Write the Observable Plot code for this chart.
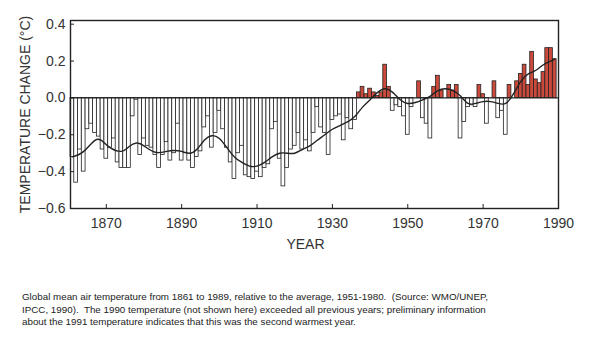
<!DOCTYPE html>
<html>
<head>
<meta charset="utf-8">
<script src="https://cdn.jsdelivr.net/npm/d3@7"></script>
<script src="https://cdn.jsdelivr.net/npm/@observablehq/plot@0.6"></script>
<style>
  html, body { margin: 0; padding: 0; background: #fff; }
  body { width: 600px; height: 343px; position: relative; overflow: hidden; font-family: "Liberation Sans", Arial, sans-serif; }
  #chart { position: absolute; left: 0; top: 0; }
  #caption { position: absolute; left: 22px; top: 291px; font-size: 9.8px; line-height: 12.5px; color: #222; white-space: nowrap; }
</style>
</head>
<body>
<div id="chart"></div>
<div id="caption">Global mean air temperature from 1861 to 1989, relative to the average, 1951-1980.&nbsp; (Source: WMO/UNEP,<br>IPCC, 1990).&nbsp; The 1990 temperature (not shown here) exceeded all previous years; preliminary information<br>about the 1991 temperature indicates that this was the second warmest year.</div>
<script>
// Years 1861..1989
const years = d3.range(1861, 1990);
// Annual anomalies (°C) relative to 1951-1980
const anomalies = [
  -0.32, -0.46, -0.28, -0.40, -0.17, -0.14, -0.19, -0.21, -0.28, -0.33, // 1861-1870
  -0.27, -0.22, -0.35, -0.38, -0.38, -0.38, -0.10, -0.01, -0.31, -0.22, // 1871-1880
  -0.26, -0.27, -0.31, -0.38, -0.31, -0.24, -0.34, -0.30, -0.14, -0.34, // 1881-1890
  -0.30, -0.34, -0.38, -0.32, -0.29, -0.16, -0.10, -0.27, -0.19, -0.07, // 1891-1900
  -0.17, -0.27, -0.35, -0.44, -0.30, -0.26, -0.42, -0.43, -0.44, -0.40, // 1901-1910
  -0.43, -0.38, -0.36, -0.17, -0.13, -0.33, -0.48, -0.38, -0.28, -0.26, // 1911-1920
  -0.19, -0.28, -0.23, -0.29, -0.19, -0.05, -0.16, -0.19, -0.31, -0.12, // 1921-1930
  -0.10, -0.09, -0.23, -0.11, -0.17, -0.12,  0.03,  0.06,  0.02,  0.05, // 1931-1940
   0.03,  0.01,  0.03,  0.18,  0.06, -0.07, -0.04, -0.05, -0.10, -0.20, // 1941-1950
  -0.05,  0.00,  0.09, -0.11, -0.14, -0.22,  0.06,  0.12,  0.04,  0.00, // 1951-1960
   0.07,  0.04,  0.07, -0.22, -0.13, -0.05, -0.04, -0.05,  0.07,  0.02, // 1961-1970
  -0.14,  0.00,  0.09, -0.11, -0.07, -0.20,  0.07,  0.00,  0.09,  0.13, // 1971-1980
   0.18,  0.07,  0.25,  0.10,  0.08,  0.14,  0.27,  0.27,  0.21         // 1981-1989
];
// Smoothed curve at these years
const curveYears = [1861,1864,1867,1869,1871,1874,1876,1878,1880,1883,1886,1888,1890,1892,1894,1896,1898,1900,1902,1904,1906,1908,1910,1912,1914,1916,1918,1920,1922,1924,1926,1928,1930,1932,1934,1936,1938,1940,1942,1944,1946,1948,1950,1952,1954,1956,1958,1960,1962,1964,1966,1968,1970,1972,1974,1976,1978,1980,1982,1984,1986,1988,1989];
const curveValues = [-0.32,-0.29,-0.23,-0.235,-0.27,-0.29,-0.265,-0.245,-0.26,-0.295,-0.29,-0.285,-0.29,-0.30,-0.28,-0.23,-0.205,-0.22,-0.27,-0.32,-0.35,-0.37,-0.37,-0.35,-0.32,-0.30,-0.30,-0.30,-0.28,-0.26,-0.23,-0.20,-0.17,-0.15,-0.13,-0.10,-0.05,-0.01,0.03,0.05,0.03,-0.01,-0.03,-0.025,-0.01,0.01,0.04,0.05,0.04,0.01,-0.03,-0.03,-0.02,-0.02,-0.03,-0.03,0.02,0.09,0.13,0.15,0.18,0.20,0.21];
const xTicks = [1870, 1890, 1910, 1930, 1950, 1970, 1990];
const yTicks = [-0.6, -0.4, -0.2, 0.0, 0.2, 0.4];

const bars = years.map((year, i) => ({year, value: anomalies[i]}));
const smooth = curveYears.map((year, i) => ({year, value: curveValues[i]}));

const warm = "#cc4a3b";
const ink = "#222";

const chart = Plot.plot({
  width: 600,
  height: 262,
  marginTop: 20,
  marginLeft: 70,
  marginRight: 42,
  marginBottom: 54,
  style: {fontFamily: "Liberation Sans, Arial, sans-serif", fontSize: "14px", color: "#333", background: "#fff"},
  x: {domain: [1860.5, 1990]},
  y: {domain: [-0.6, 0.42]},
  marks: [
    Plot.rectY(bars, {
      x1: d => d.year - 0.5, x2: d => d.year + 0.5, y1: 0, y2: "value",
      fill: d => d.value > 0 ? warm : "#fff",
      stroke: ink, strokeWidth: 0.8
    }),
    Plot.ruleY([0], {stroke: ink, strokeWidth: 1.2}),
    Plot.line(smooth, {x: "year", y: "value", curve: "natural", stroke: ink, strokeWidth: 1.4}),
    Plot.frame({stroke: ink, strokeWidth: 1.4}),
    Plot.axisX({ticks: xTicks, tickSize: -4, tickFormat: () => "", label: null, stroke: ink}),
    Plot.axisX({ticks: xTicks, tickSize: 0, tickPadding: 10, tickFormat: d => String(d), label: "YEAR", labelAnchor: "center", labelArrow: "none", labelOffset: 40}),
    Plot.axisY({ticks: yTicks, tickSize: -4, tickFormat: () => "", label: null, stroke: ink}),
    Plot.axisY({ticks: yTicks, tickSize: 0, tickPadding: 5, tickFormat: d3.format(".1f"), label: "TEMPERATURE CHANGE (°C)", labelAnchor: "center", labelArrow: "none", labelOffset: 50})
  ]
});
document.getElementById("chart").appendChild(chart);
// nudge the YEAR label slightly left, as in the reference
chart.querySelectorAll("text").forEach(t => {
  if (t.textContent.trim() === "YEAR") t.setAttribute("dx", "-9");
});
</script>
</body>
</html>
